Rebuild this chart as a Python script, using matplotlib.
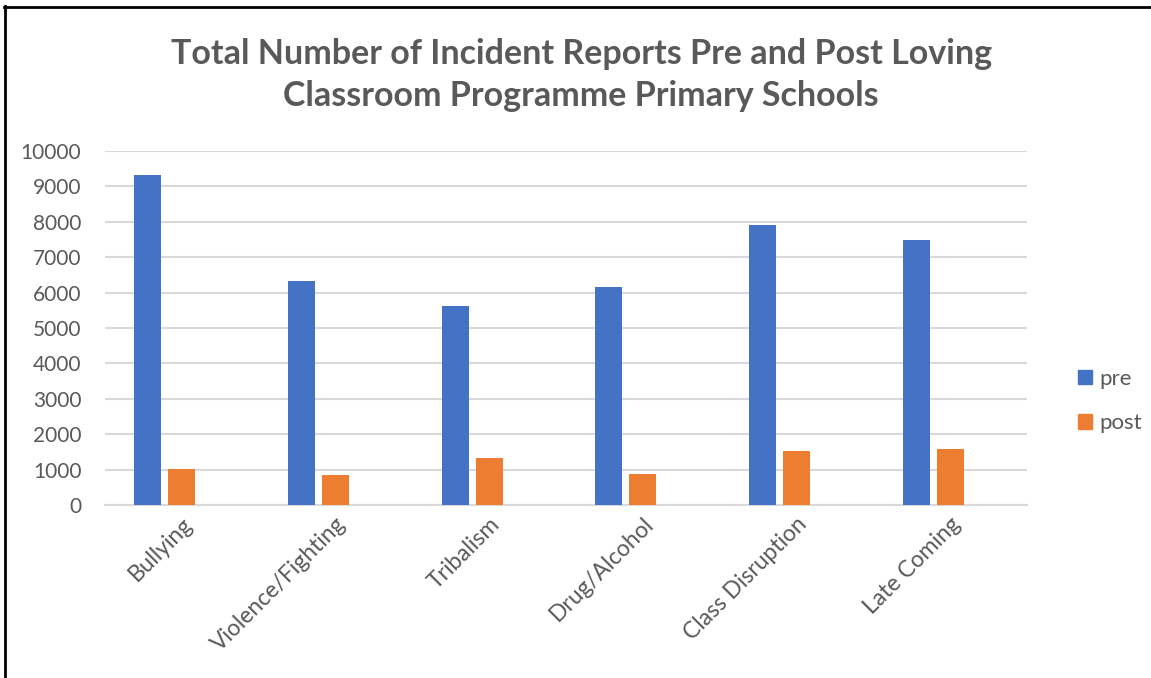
import numpy as np
import matplotlib.pyplot as plt
from matplotlib.lines import Line2D


# data
categories = ['Bullying', 'Violence/Fighting', 'Tribalism', 'Drug/Alcohol',
              'Class Disruption', 'Late Coming']
pre = [9310, 6330, 5620, 6170, 7905, 7480]
post = [1010, 840, 1340, 870, 1520, 1575]
yticks = [0, 1000, 2000, 3000, 4000, 5000, 6000, 7000, 8000, 9000, 10000]

title = 'Total Number of Incident Reports Pre and Post Loving\nClassroom Programme Primary Schools'

blue = '#4472C4'
orange = '#ED7D31'
grey = '#595959'

plt.rcParams['font.family'] = ['Lato', 'DejaVu Sans']

fig = plt.figure(figsize=(11.51, 6.78), dpi=100)
ax = fig.add_axes([105 / 1151, 1 - 505 / 678, 922 / 1151, 354 / 678])

x = np.arange(len(categories))
w = 0.176
step = 0.221
ax.bar(x - step, pre, width=w, color=blue, label='pre', zorder=3)
ax.bar(x, post, width=w, color=orange, label='post', zorder=3)

ax.set_xlim(-0.5, len(categories) - 0.5)
ax.set_ylim(0, 10000)
ax.set_yticks(yticks)
ax.set_yticklabels([str(v) for v in yticks])
ax.yaxis.grid(True, color='#D9D9D9', linewidth=1.5, zorder=0)
ax.set_axisbelow(True)
for s in ['top', 'right', 'left']:
    ax.spines[s].set_visible(False)
ax.spines['bottom'].set_color('#D9D9D9')
ax.spines['bottom'].set_linewidth(1.5)
ax.tick_params(axis='both', length=0, colors=grey, labelsize=15)
ax.tick_params(axis='y', pad=17)

ax.set_xticks(x)
ax.set_xticklabels(categories, rotation=45, ha='right', va='top',
                   rotation_mode='anchor', fontsize=16.5)
for lbl in ax.get_xticklabels():
    lbl.set_color(grey)
ax.tick_params(axis='x', pad=6)

fig.text(0.505, 1 - 75 / 678, title, ha='center', va='center',
         fontsize=24.5, fontweight='bold', color=grey, linespacing=1.35)

handles = [plt.Rectangle((0, 0), 1, 1, color=blue),
           plt.Rectangle((0, 0), 1, 1, color=orange)]
fig.legend(handles, ['pre', 'post'], loc='center left',
           bbox_to_anchor=(1058 / 1151, 1 - 401 / 678), frameon=False,
           fontsize=16, labelcolor=grey, handlelength=0.65, handleheight=0.65,
           handletextpad=0.3, labelspacing=1.1)

# border of the chart area
fig.add_artist(Line2D([5 / 1151, 5 / 1151], [0, 1 - 6 / 678],
                      transform=fig.transFigure, color='black', linewidth=2))
fig.add_artist(Line2D([4 / 1151, 1], [1 - 7 / 678, 1 - 7 / 678],
                      transform=fig.transFigure, color='black', linewidth=2))

fig.savefig('out.png', dpi=100)
